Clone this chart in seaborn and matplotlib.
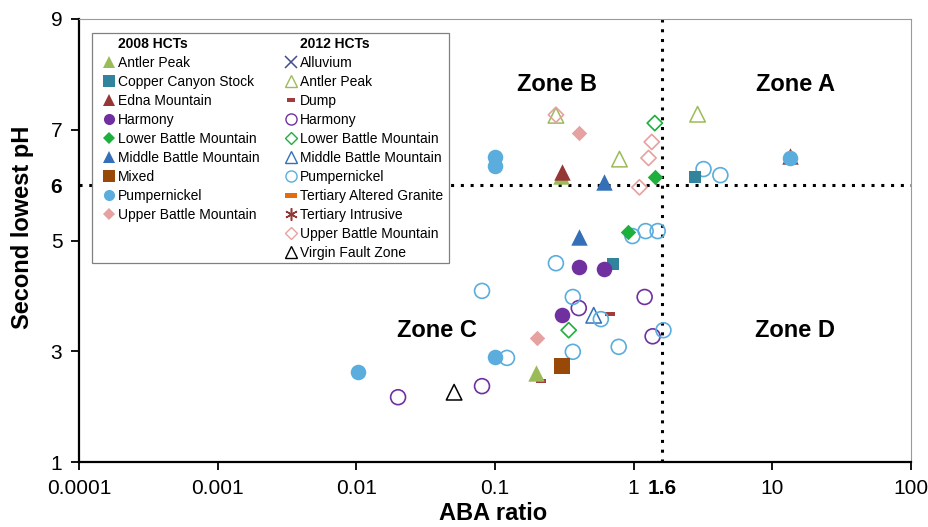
import numpy as np
import matplotlib
matplotlib.use("Agg")
import matplotlib.pyplot as plt
from matplotlib.lines import Line2D
from matplotlib.patches import Rectangle
import seaborn as sns

sns.set_theme(style="white")
plt.rcParams['font.family'] = ['Liberation Sans', 'DejaVu Sans']
plt.rcParams['text.color'] = 'black'
plt.rcParams['axes.labelcolor'] = 'black'

# ---------------- data ----------------
# 2008 HCTs (filled markers)
antler08_x = [0.197, 0.300]
antler08_y = [2.61, 6.17]
copper08_x = [2.75, 0.706]
copper08_y = [6.14, 4.57]
edna08_x = [0.303, 13.5]
edna08_y = [6.23, 6.52]
harmony08_x = [0.402, 0.608, 0.303]
harmony08_y = [4.52, 4.48, 3.65]
lbm08_x = [1.42, 0.905]
lbm08_y = [6.14, 5.15]
mbm08_x = [0.608, 0.402]
mbm08_y = [6.05, 5.06]
mixed08_x = [0.303]
mixed08_y = [2.73]
pump08_x = [0.1, 0.1, 13.5, 0.1, 0.0102]
pump08_y = [6.50, 6.35, 6.49, 2.90, 2.62]
ubm08_x = [0.402, 0.2]
ubm08_y = [6.94, 3.24]

# 2012 HCTs (open markers)
alluvium_x = [4.9]
alluvium_y = [6.87]
antler12_x = [0.275, 2.89, 0.79]
antler12_y = [7.26, 7.28, 6.47]
dump_x = [0.67, 0.214]
dump_y = [3.67, 2.46]
harmony12_x = [0.402, 1.2, 1.37, 0.0806, 0.02]
harmony12_y = [3.78, 3.98, 3.27, 2.37, 2.17]
lbm12_x = [1.42, 0.34]
lbm12_y = [7.12, 3.38]
mbm12_x = [0.515]
mbm12_y = [3.65]
pump12_x = [3.19, 4.22, 0.275, 0.0806, 0.364, 0.58, 0.98, 1.22, 1.49, 1.64, 0.78, 0.364, 0.122]
pump12_y = [6.29, 6.18, 4.59, 4.09, 3.98, 3.58, 5.08, 5.17, 5.17, 3.38, 3.08, 2.99, 2.88]
tag_x = []
tag_y = []
ti_x = [0.249, 0.0402, 0.507, 0.92, 1.49]
ti_y = [6.07, 2.59, 2.68, 2.97, 3.08]
ubm12_x = [0.275, 1.35, 1.28, 1.1]
ubm12_y = [7.27, 6.78, 6.49, 5.96]
vfz_x = [0.0507]
vfz_y = [2.26]

x_ticks = [0.0001, 0.001, 0.01, 0.1, 1, 10, 100]
x_tick_labels = ["0.0001", "0.001", "0.01", "0.1", "1", "10", "100"]
y_ticks = [1, 3, 5, 7, 9]
aba_threshold = 1.6
ph_threshold = 6

zones = ["Zone A", "Zone B", "Zone C", "Zone D"]
zone_x = [14.6, 0.279, 0.038, 14.6]
zone_y = [7.82, 7.82, 3.38, 3.38]

# colours
C_ANTLER = "#9BBB59"
C_COPPER = "#31849B"
C_EDNA = "#953735"
C_HARM = "#7030A0"
C_LBM = "#1DB03C"
C_MBM = "#3470B8"
C_MIXED = "#984807"
C_PUMP = "#5AADDD"
C_UBM = "#E6A1A1"
C_ALLUV = "#404F8C"
C_DUMP = "#A03C3C"
C_TAG = "#E46C0A"
C_TI = "#953735"
C_VFZ = "#000000"

DASH = [(-1, -0.4), (1, -0.4), (1, 0.4), (-1, 0.4), (-1, -0.4)]
AST = (6, 2, 0)

# ---------------- figure ----------------
W, H = 929, 527
fig = plt.figure(figsize=(W/100, H/100), dpi=100)
ax = fig.add_axes([79/W, 1-462/H, (911-79)/W, (462-19)/H])
ax.set_xscale("log")
ax.set_xlim(0.0001, 100)
ax.set_ylim(1, 9)


def filled(x, y, marker, color, s, z=3):
    if len(x) == 0:
        return
    sns.scatterplot(x=x, y=y, ax=ax, marker=marker, s=s, color=color,
                    edgecolor=color, linewidth=0, zorder=z, legend=False)


def hollow(x, y, marker, color, s, lw=1.2, z=2):
    if len(x) == 0:
        return
    sns.scatterplot(x=x, y=y, ax=ax, marker=marker, s=s, color=color,
                    facecolor="none", edgecolor=color, linewidth=lw,
                    zorder=z, legend=False)


# 2012 (drawn first)
hollow(alluvium_x, alluvium_y, "x", C_ALLUV, 110, 1.4)
hollow(antler12_x, antler12_y, "^", C_ANTLER, 125, 1.1)
filled(dump_x, dump_y, DASH, C_DUMP, 50, z=2)
hollow(harmony12_x, harmony12_y, "o", C_HARM, 115, 1.2)
hollow(lbm12_x, lbm12_y, "D", C_LBM, 60, 1.2)
hollow(mbm12_x, mbm12_y, "^", C_MBM, 125, 1.1)
hollow(pump12_x, pump12_y, "o", C_PUMP, 115, 1.2)
filled(tag_x, tag_y, DASH, C_TAG, 50, z=2)
hollow(ti_x, ti_y, AST, C_TI, 150, 1.3)
hollow(ubm12_x, ubm12_y, "D", C_UBM, 60, 1.2)
hollow(vfz_x, vfz_y, "^", C_VFZ, 125, 1.1)

# 2008 (drawn on top)
filled(antler08_x, antler08_y, "^", C_ANTLER, 140)
filled(copper08_x, copper08_y, "s", C_COPPER, 65)
filled(edna08_x, edna08_y, "^", C_EDNA, 140)
filled(harmony08_x, harmony08_y, "o", C_HARM, 125)
filled(lbm08_x, lbm08_y, "D", C_LBM, 62)
filled(mbm08_x, mbm08_y, "^", C_MBM, 140)
filled(mixed08_x, mixed08_y, "s", C_MIXED, 125)
filled(pump08_x, pump08_y, "o", C_PUMP, 125)
filled(ubm08_x, ubm08_y, "D", C_UBM, 62)

# threshold lines
ax.axvline(aba_threshold, color="black", linestyle=(0, (1, 2.2)), linewidth=2.2, zorder=1)
ax.axhline(ph_threshold, color="black", linestyle=(0, (1, 2.2)), linewidth=2.2, zorder=1)

# zone labels
for t, zx, zy in zip(zones, zone_x, zone_y):
    ax.text(zx, zy, t, ha="center", va="center", fontsize=17, fontweight="bold",
            color="black")

# axes styling
for side in ["left", "bottom"]:
    ax.spines[side].set_color("black")
    ax.spines[side].set_linewidth(1.6)
for side in ["top", "right"]:
    ax.spines[side].set_color("#9a9a9a")
    ax.spines[side].set_linewidth(0.8)

ax.set_xticks(x_ticks + [aba_threshold])
ax.set_xticklabels(x_tick_labels + ["1.6"])
ax.xaxis.set_minor_locator(matplotlib.ticker.NullLocator())
ax.set_yticks(y_ticks + [ph_threshold])
ax.set_yticklabels([str(v) for v in y_ticks] + ["6"])
ax.tick_params(axis="both", which="major", direction="out", length=6, width=1.3,
               labelsize=15, colors="black", pad=6, left=True, bottom=True)
xt = ax.xaxis.get_major_ticks()
xt[-1].tick1line.set_visible(False)
xt[-1].label1.set_fontweight("bold")
yt = ax.yaxis.get_major_ticks()
yt[-1].tick1line.set_visible(False)
yt[-1].label1.set_fontweight("bold")

ax.set_xlabel("ABA ratio", fontsize=17, fontweight="bold", color="black")
ax.xaxis.set_label_coords((493-79)/832, -(502-462)/443)
ax.set_ylabel("Second lowest pH", fontsize=17, fontweight="bold", color="black")
ax.yaxis.set_label_coords((34-79)/832, (462-227)/443)

# legend frame (drawn separately for exact placement)
frame = Rectangle(((92-79)/832, (462-263)/443), (449-92)/832, (263-33)/443,
                  transform=ax.transAxes, facecolor="white", edgecolor="#808080",
                  linewidth=0.9, zorder=4)
ax.add_patch(frame)


def h(marker, color, filled_=True, ms=8, mew=1.0):
    return Line2D([], [], linestyle="none", marker=marker, markersize=ms,
                  markerfacecolor=color if filled_ else "none",
                  markeredgecolor=color, markeredgewidth=mew if not filled_ else 0)

blank = Line2D([], [], linestyle="none")
col1 = [(blank, "2008 HCTs"),
        (h("^", C_ANTLER, ms=9), "Antler Peak"),
        (h("s", C_COPPER, ms=8), "Copper Canyon Stock"),
        (h("^", C_EDNA, ms=9), "Edna Mountain"),
        (h("o", C_HARM, ms=8), "Harmony"),
        (h("D", C_LBM, ms=6), "Lower Battle Mountain"),
        (h("^", C_MBM, ms=9), "Middle Battle Mountain"),
        (h("s", C_MIXED, ms=8), "Mixed"),
        (h("o", C_PUMP, ms=8), "Pumpernickel"),
        (h("D", C_UBM, ms=6), "Upper Battle Mountain")]
col2 = [(blank, "2012 HCTs"),
        (h("x", C_ALLUV, False, 8, 1.1), "Alluvium"),
        (h("^", C_ANTLER, False, 9), "Antler Peak"),
        (h(DASH, C_DUMP, ms=6), "Dump"),
        (h("o", C_HARM, False, 8), "Harmony"),
        (h("D", C_LBM, False, 6), "Lower Battle Mountain"),
        (h("^", C_MBM, False, 9), "Middle Battle Mountain"),
        (h("o", C_PUMP, False, 8), "Pumpernickel"),
        (h(DASH, C_TAG, ms=9), "Tertiary Altered Granite"),
        (h(AST, C_TI, False, 9, 1.1), "Tertiary Intrusive"),
        (h("D", C_UBM, False, 6), "Upper Battle Mountain"),
        (h("^", C_VFZ, False, 9), "Virgin Fault Zone")]
while len(col1) < len(col2):
    col1.append((blank, " "))
entries = col1 + col2
handles = [e[0] for e in entries]
labels = [e[1] for e in entries]
leg = ax.legend(handles, labels, ncol=2, loc="upper left",
                bbox_to_anchor=((97-79)/832, 1 - 14/443), borderaxespad=0,
                fontsize=10, frameon=False,
                handlelength=1.15, handletextpad=0.05, columnspacing=1.7,
                labelspacing=0.36, borderpad=0.3)
leg.set_zorder(5)
texts = leg.get_texts()
for t in texts:
    t.set_color("black")
texts[0].set_fontweight("bold")
texts[len(col1)].set_fontweight("bold")

fig.savefig("out.png", dpi=100)
